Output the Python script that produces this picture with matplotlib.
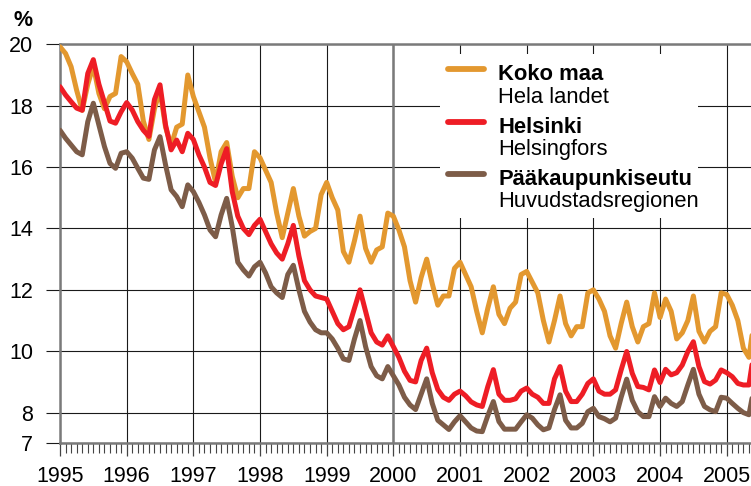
import numpy as np
import matplotlib
matplotlib.use("Agg")
import matplotlib.pyplot as plt
from matplotlib.ticker import MultipleLocator
from matplotlib.patches import Rectangle

plt.rcParams['font.family'] = ['Liberation Sans', 'DejaVu Sans']

# monthly series, Jan 1995 onwards (last value is clipped at the right edge)
koko_maa = [19.92, 19.7, 19.27, 18.5, 17.85, 18.7, 19.3, 18.4, 17.9, 18.3, 18.4, 19.6,
            19.43, 19.05, 18.7, 17.5, 16.9, 17.9, 18.5, 17.3, 16.7, 17.3, 17.4, 19.0,
            18.3, 17.8, 17.3, 16.3, 15.5, 16.5, 16.8, 15.7, 15.0, 15.3, 15.3, 16.5,
            16.3, 15.9, 15.5, 14.5, 13.7, 14.5, 15.3, 14.4, 13.75, 13.9, 14.0, 15.1,
            15.5, 15.0, 14.6, 13.25, 12.9, 13.6, 14.4, 13.35, 12.9, 13.3, 13.4, 14.5,
            14.4, 13.95, 13.4, 12.3, 11.6, 12.4, 13.0, 12.2, 11.5, 11.8, 11.8, 12.7,
            12.9, 12.5, 12.1, 11.3, 10.6, 11.4, 12.1, 11.2, 10.9, 11.4, 11.6, 12.5,
            12.6, 12.25, 11.9, 11.0, 10.3, 11.0, 11.8, 10.9, 10.5, 10.8, 10.8, 11.9,
            12.0, 11.7, 11.3, 10.5, 10.1, 10.9, 11.6, 10.8, 10.3, 10.8, 10.9, 11.9,
            11.1, 11.7, 11.3, 10.4, 10.6, 11.0, 11.8, 10.65, 10.3, 10.65, 10.8, 11.9,
            11.85, 11.5, 11.0, 10.1, 9.8, 11.1]
helsinki = [18.62, 18.35, 18.13, 17.92, 17.85, 19.05, 19.5, 18.7, 18.1, 17.5, 17.43, 17.8,
            18.1, 17.86, 17.48, 17.2, 17.0, 18.2, 18.68, 17.37, 16.56, 16.88, 16.5, 17.1,
            16.9, 16.4, 16.0, 15.5, 15.4, 16.1, 16.6, 15.2, 14.4, 14.0, 13.8, 14.1,
            14.3, 13.9, 13.5, 13.2, 13.0, 13.5, 14.1, 13.1, 12.3, 12.0, 11.8, 11.75,
            11.7, 11.3, 10.9, 10.7, 10.8, 11.4, 12.0, 11.3, 10.6, 10.3, 10.2, 10.5,
            10.15, 9.8, 9.35, 9.05, 9.0, 9.7, 10.1, 9.3, 8.75, 8.5, 8.4, 8.6,
            8.7, 8.55, 8.35, 8.25, 8.2, 8.85, 9.4, 8.6, 8.4, 8.4, 8.45, 8.7,
            8.8, 8.6, 8.5, 8.3, 8.3, 9.1, 9.5, 8.7, 8.36, 8.36, 8.6, 8.95,
            9.1, 8.7, 8.6, 8.6, 8.74, 9.39, 9.99, 9.28, 8.85, 8.82, 8.74, 9.39,
            8.98, 9.41, 9.23, 9.3, 9.55, 9.99, 10.31, 9.5, 9.01, 8.93, 9.06, 9.39,
            9.3, 9.17, 8.95, 8.9, 8.9, 10.1]
paakaupunkiseutu = [17.2, 16.94, 16.72, 16.5, 16.4, 17.48, 18.08, 17.37, 16.67, 16.12, 15.96, 16.45,
                    16.5, 16.29, 15.96, 15.64, 15.6, 16.56, 16.99, 16.07, 15.26, 15.04, 14.71, 15.42,
                    15.2, 14.85, 14.44, 13.95, 13.73, 14.44, 14.98, 14.06, 12.9, 12.65, 12.45, 12.75,
                    12.9, 12.55, 12.1, 11.9, 11.75, 12.5, 12.8, 12.0, 11.3, 10.95, 10.7, 10.6,
                    10.6, 10.4, 10.1, 9.75, 9.7, 10.4, 11.0, 10.15, 9.5, 9.2, 9.1, 9.5,
                    9.2, 8.9, 8.5, 8.25, 8.1, 8.6, 9.1, 8.3, 7.75, 7.6, 7.45, 7.7,
                    7.9, 7.7, 7.5, 7.4, 7.38, 7.9, 8.36, 7.71, 7.46, 7.46, 7.46, 7.7,
                    7.93, 7.82, 7.6, 7.44, 7.5, 8.1, 8.58, 7.75, 7.5, 7.5, 7.65, 8.03,
                    8.14, 7.87, 7.8, 7.7, 7.82, 8.5, 9.09, 8.4, 8.03, 7.87, 7.87, 8.52,
                    8.2, 8.47, 8.3, 8.2, 8.36, 8.9, 9.41, 8.6, 8.2, 8.09, 8.03, 8.5,
                    8.47, 8.3, 8.14, 8.0, 7.93, 8.9]

years = list(range(1995, 2006))
yticks = [7, 8, 10, 12, 14, 16, 18, 20]

series = [("Koko maa", "Hela landet", koko_maa, "#E3982F"),
          ("Helsinki", "Helsingfors", helsinki, "#EE1D25"),
          ("Pääkaupunkiseutu", "Huvudstadsregionen", paakaupunkiseutu, "#7D5C48")]

W, H = 751, 486
fig = plt.figure(figsize=(W / 100, H / 100), dpi=100)
ax = fig.add_axes([60 / W, 42.7 / H, 691 / W, 399 / H])

months = 1995 + np.arange(len(koko_maa)) / 12.0
for name, sub, vals, col in series:
    ax.plot(months, vals, color=col, lw=3.6, solid_capstyle='round',
            solid_joinstyle='round', zorder=3)

ax.set_xlim(1995, 1995 + 124.37 / 12)
ax.set_ylim(7, 20)
ax.set_xticks(years)
ax.set_xticklabels([str(y) for y in years])
ax.xaxis.set_minor_locator(MultipleLocator(1 / 12))
ax.set_yticks(yticks)

ax.grid(True, which='major', color='#1a1a1a', lw=0.8, zorder=1.5)
ax.axvline(2000, color='#7a7a7a', lw=1.8, zorder=2)

ax.spines['right'].set_visible(False)
for s in ['left', 'top', 'bottom']:
    ax.spines[s].set_color('#7a7a7a')
    ax.spines[s].set_linewidth(1.8)

ax.tick_params(axis='y', length=10.3, width=0.8, pad=9, labelsize=15.5, color='#1a1a1a')
ax.tick_params(axis='x', which='major', length=9, width=0.9, pad=7, labelsize=15.5, color='#444444')
ax.tick_params(axis='x', which='minor', length=7.5, width=0.8, color='#444444')


def fx(px):
    return (px - 60) / 691.0


def fy(py):
    return (443.3 - py) / 399.0


# legend box covering the grid
ax.add_patch(Rectangle((fx(440), fy(218)), fx(698) - fx(440), fy(54) - fy(218),
                       transform=ax.transAxes, facecolor='white', edgecolor='none', zorder=1.8))
for k, (name, sub, vals, col) in enumerate(series):
    base = 80 + k * 52.5
    ax.plot([fx(448), fx(484)], [fy(base - 10.8)] * 2, transform=ax.transAxes,
            color=col, lw=4.2, solid_capstyle='round', zorder=4)
    ax.text(fx(498), fy(base), name, transform=ax.transAxes, fontsize=15.8,
            fontweight='bold', va='baseline', ha='left', zorder=4)
    ax.text(fx(498), fy(base + 22.5), sub, transform=ax.transAxes, fontsize=15.8,
            va='baseline', ha='left', zorder=4)

fig.text(23 / W, 1 - 20 / H, "%", fontsize=15.5, fontweight='bold', ha='center', va='center')

fig.savefig("out.png", dpi=100)
